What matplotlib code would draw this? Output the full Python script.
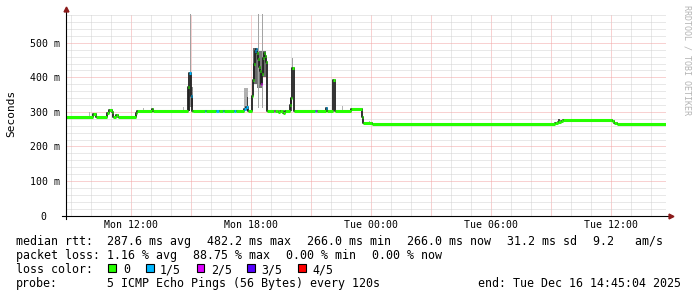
import matplotlib
matplotlib.use('Agg')
import matplotlib.pyplot as plt
from matplotlib.patches import Rectangle

plt.rcParams['font.family'] = 'DejaVu Sans Mono'

# time in hours since Mon 00:00, rtt in ms
med_t = [8.75, 10.10, 10.25, 10.80, 10.90, 11.05, 11.10, 11.25, 11.35, 12.25, 12.30, 13.05, 13.10,
         14.85, 14.90, 15.00, 15.05, 15.10,
         15.70, 15.75, 16.25, 16.40, 16.60, 16.65, 17.15, 17.25,
         17.65, 17.75, 17.85,
         18.05, 18.10, 18.15, 18.20, 18.25, 18.30, 18.35, 18.40, 18.45, 18.50,
         18.55, 18.60, 18.65, 18.70, 18.75, 18.80,
         19.15, 19.20, 19.35, 19.45, 19.60, 19.70,
         19.95, 20.00, 20.07, 20.15,
         21.20, 21.25, 21.30, 21.75, 21.80,
         22.10, 22.20,
         23.00, 23.55, 23.60, 24.05,
         33.20, 33.35, 33.50, 33.60, 36.05, 36.15, 36.30]
med_v = [285, 293, 285, 297, 305, 300, 285, 292, 285, 296, 304, 307, 304,
         372, 412, 346, 302, 304,
         304, 304, 304, 304, 304, 304, 304, 304,
         308, 314, 304,
         346, 392, 440, 476, 482, 470, 452, 430, 418, 380,
         410, 455, 472, 462, 444, 304,
         303, 304, 299, 304, 298, 304,
         320, 340, 427, 304,
         304, 304, 304, 312, 304,
         392, 304,
         309, 285, 268, 266,
         268, 272, 275, 277, 273, 269, 266]
# loss bucket per sample: 0, 1/5, 2/5, 3/5, 4/5
med_loss = [0, 0, 0, 0, 0, 0, 0, 0, 0, 0, 0, 0, 0,
            0, 1, 1, 0, 0,
            1, 0, 1, 0, 1, 0, 1, 0,
            1, 1, 0,
            0, 0, 0, 1, 1, 0, 0, 0, 0, 2,
            0, 0, 0, 0, 0, 0,
            2, 0, 0, 0, 0, 0,
            0, 0, 0, 0,
            1, 2, 0, 1, 0,
            0, 0,
            0, 0, 0, 0,
            0, 0, 0, 0, 0, 0, 0]
t_end = 38.75

# smoke (spread of the individual pings)
smoke_t0 = [9.90, 12.60, 14.60, 14.85, 14.95, 14.95, 17.65, 17.80,
            18.10, 18.30, 18.55, 18.35, 18.55, 19.95, 20.05, 22.55, 23.90, 33.35]
smoke_t1 = [9.95, 12.65, 14.65, 14.95, 15.00, 15.10, 17.85, 17.85,
            18.30, 18.55, 18.75, 18.40, 18.60, 20.05, 20.10, 22.60, 23.95, 33.45]
smoke_lo = [285, 304, 304, 304, 372, 314, 304, 304,
            380, 370, 400, 310, 311, 304, 427, 304, 268, 272]
smoke_hi = [300, 310, 314, 375, 585, 372, 369, 343,
            485, 475, 475, 585, 585, 340, 456, 317, 273, 279]
smoke_shade = ['#b4b4b4', '#b4b4b4', '#b4b4b4', '#303030', '#a0a0a0', '#8c8c8c', '#b0b0b0', '#404040',
               '#6a6a6a', '#7a7a7a', '#6a6a6a', '#a4a4a4', '#a4a4a4', '#505050', '#a0a0a0', '#b4b4b4',
               '#b4b4b4', '#505050']

loss_colors = ['#26ff00', '#00b8ff', '#dd00ff', '#5500ff', '#ff0000']
loss_labels = ['0', '1/5', '2/5', '3/5', '4/5']

y_ticks = [0, 100, 200, 300, 400, 500]
y_labels = ['0', '100 m', '200 m', '300 m', '400 m', '500 m']
x_ticks = [12, 18, 24, 30, 36]
x_labels = ['Mon 12:00', 'Mon 18:00', 'Tue 00:00', 'Tue 06:00', 'Tue 12:00']

W, H = 697, 297
fig = plt.figure(figsize=(W / 100, H / 100), dpi=100)
ax = fig.add_axes([66 / W, 1 - 215.5 / H, 600 / W, 202 / H])
ax.set_xlim(8.75, 38.75)
ax.set_ylim(0, 585)
for s in ax.spines.values():
    s.set_visible(False)

# grid
ax.set_xticks([h for h in range(12, 39, 3)])
ax.set_xticks([h for h in range(9, 39)], minor=True)
ax.set_yticks(range(0, 586, 100))
ax.set_yticks(range(0, 586, 20), minor=True)
ax.grid(which='minor', color='#d2d2d2', lw=0.72, ls=(0, (1, 1)))
ax.grid(which='major', color='#f2a4a4', lw=0.72, ls=(0, (1, 1)))
ax.set_axisbelow(True)
ax.tick_params(which='both', length=0, labelbottom=False, labelleft=False)

# smoke
for a, b, lo, hi, c in zip(smoke_t0, smoke_t1, smoke_lo, smoke_hi, smoke_shade):
    ax.bar(a, hi - lo, width=b - a, bottom=lo, align='edge', color=c, lw=0, zorder=2)

# median line
ts = med_t + [t_end]
ax.plot(ts, med_v + [med_v[-1]], drawstyle='steps-post', color='#202020', lw=1.3, zorder=3)
ax.hlines(med_v, ts[:-1], ts[1:], colors=[loss_colors[i] for i in med_loss],
          lw=2.2, zorder=4, capstyle='butt')

# axes with arrows
ax.plot([0, 0], [-0.017, 1.02], transform=ax.transAxes, color='black', lw=0.8, clip_on=False, zorder=5)
ax.plot([-0.007, 1.008], [0, 0], transform=ax.transAxes, color='black', lw=0.8, clip_on=False, zorder=5)
ax.plot([0], [1.02], marker='^', ms=3.5, color='#8b1a1a', transform=ax.transAxes, clip_on=False, zorder=6)
ax.plot([1.009], [0], marker='>', ms=3.5, color='#8b1a1a', transform=ax.transAxes, clip_on=False, zorder=6)

# tick labels
for v, lab in zip(y_ticks, y_labels):
    xr = -0.01 if v else -0.032
    ax.text(xr, v, lab, transform=ax.get_yaxis_transform(), ha='right', va='center_baseline', fontsize=7.1)
for h, lab in zip(x_ticks, x_labels):
    ax.text(h, -0.0604, lab, transform=ax.get_xaxis_transform(), ha='center', va='baseline', fontsize=7.1)

def ftext(x, y, s, **kw):
    kw.setdefault('fontsize', 8.4)
    fig.text(x / W, 1 - y / H, s, **kw)

ftext(11, 113.5, 'Seconds', rotation=90, ha='center', va='center', fontsize=8.0)
ftext(687.5, 60, 'RRDTOOL / TOBI OETIKER', rotation=270, ha='center', va='center',
      fontsize=6.0, color='#b4b4b4')

rows = [
    (245.0, [(16, 'median rtt:'), (107.3, '287.6 ms avg'), (207.3, '482.2 ms max'),
             (307.3, '266.0 ms min'), (407.3, '266.0 ms now'), (507.3, '31.2 ms sd'),
             (592.7, '9.2   am/s')]),
    (259.3, [(16, 'packet loss:'), (107.3, '1.16 % avg'), (192.7, '88.75 % max'),
             (286, '0.00 % min'), (372.3, '0.00 % now')]),
    (273.3, [(16, 'loss color:')]),
    (287.3, [(16, 'probe:'), (107.3, '5 ICMP Echo Pings (56 Bytes) every 120s')]),
]
for y, items in rows:
    for x, s in items:
        ftext(x, y, s, ha='left', va='baseline')
ftext(681, 287.3, 'end: Tue Dec 16 14:45:04 2025', ha='right', va='baseline')

box_x = [108.3, 146.0, 196.7, 247.0, 298.3]
lab_x = [123.3, 160.0, 211.0, 261.7, 312.7]
for bx, lx, c, lab in zip(box_x, lab_x, loss_colors, loss_labels):
    fig.patches.append(Rectangle((bx / W, 1 - 272 / H), 7.7 / W, 8.3 / H, facecolor=c,
                                 edgecolor='black', lw=0.8, transform=fig.transFigure))
    ftext(lx, 273.3, lab, ha='left', va='baseline')

fig.savefig('out.png', dpi=100)
